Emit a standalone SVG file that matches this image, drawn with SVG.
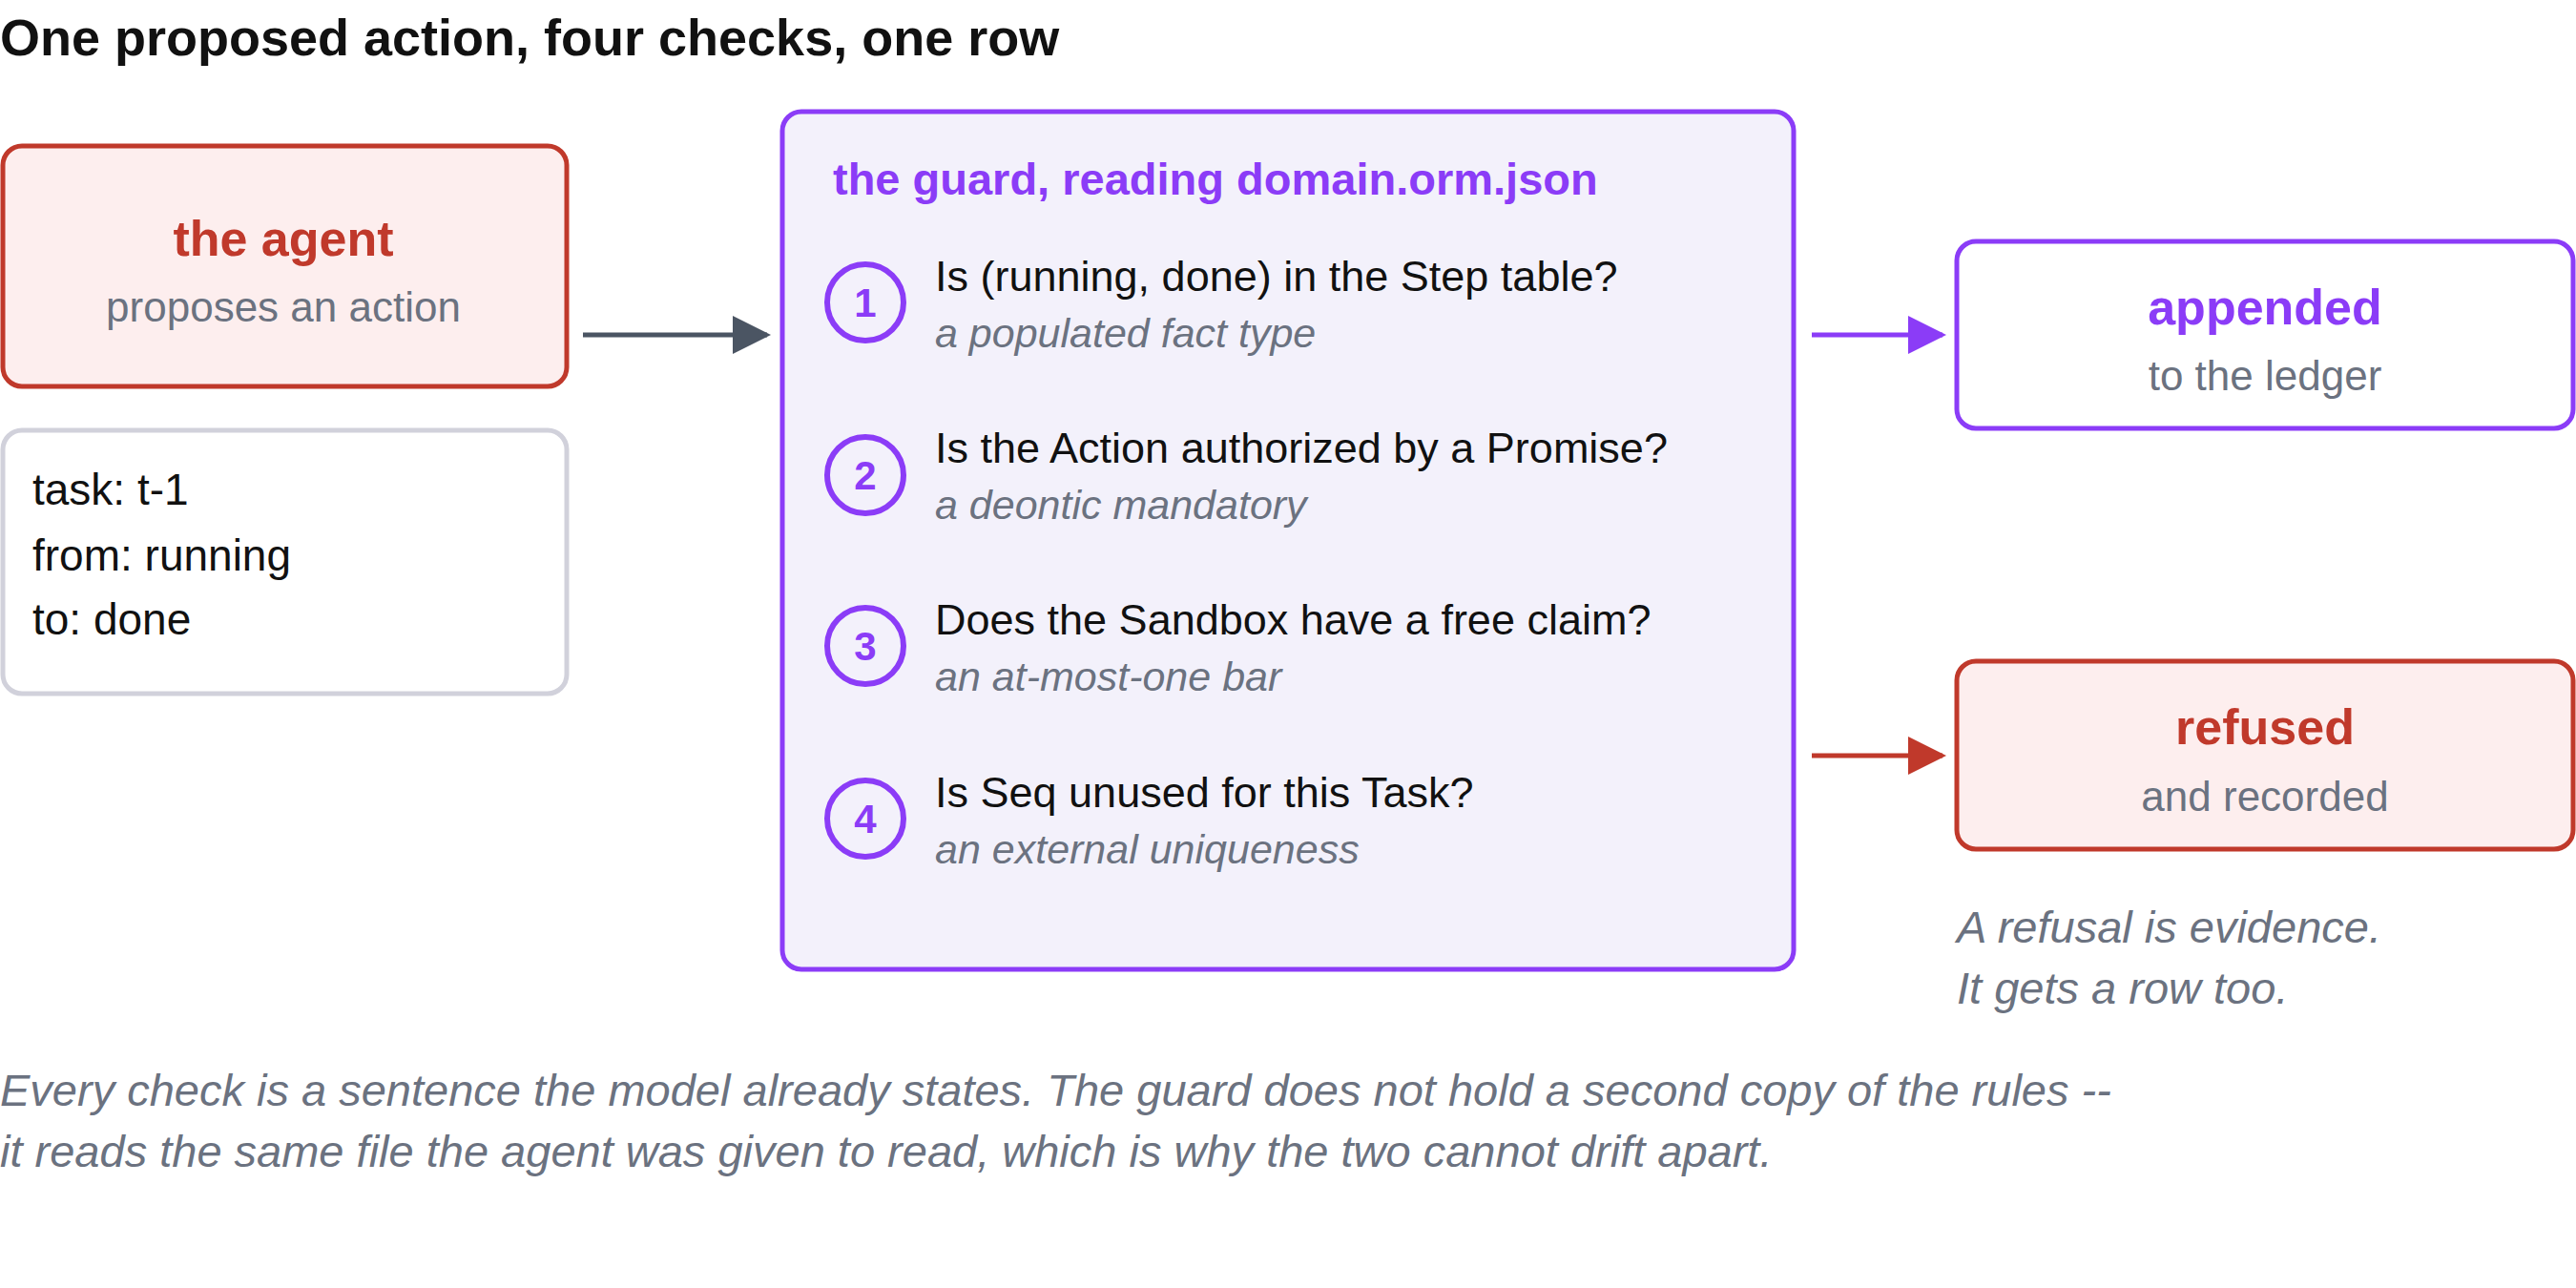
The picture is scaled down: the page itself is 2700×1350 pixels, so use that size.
<svg xmlns="http://www.w3.org/2000/svg" width="2700" height="1350" viewBox="0 0 2700 1350">
<defs>
<style>
text{font-family:"Liberation Sans",Arial,sans-serif}
.b{font-weight:bold}
.g{fill:#6b7280}
.i{font-style:italic;fill:#6b7280}
.q{font-size:45px;fill:#111}
.s{font-size:43px;font-style:italic;fill:#6b7280}
.c{fill:none;stroke:#8b3cf7;stroke-width:6}
.n{font-size:42px;font-weight:bold;fill:#8b3cf7;text-anchor:middle}
</style>
<marker id="ag" viewBox="0 0 10 10" refX="9" refY="5" markerWidth="8" markerHeight="8" orient="auto"><path d="M0,0L10,5L0,10z" fill="#4b5563"/></marker>
<marker id="ap" viewBox="0 0 10 10" refX="9" refY="5" markerWidth="8" markerHeight="8" orient="auto"><path d="M0,0L10,5L0,10z" fill="#8b3cf7"/></marker>
<marker id="ar" viewBox="0 0 10 10" refX="9" refY="5" markerWidth="8" markerHeight="8" orient="auto"><path d="M0,0L10,5L0,10z" fill="#c0392b"/></marker>
</defs>
<rect width="2700" height="1350" fill="#fff"/>
<text x="0" y="58" class="b" font-size="54" fill="#111">One proposed action, four checks, one row</text>
<g id="agent">
<rect x="3" y="153" width="591" height="252" rx="20" fill="#fdeeee" stroke="#c0392b" stroke-width="5"/>
<text x="297" y="268" class="b" font-size="52" fill="#c0392b" text-anchor="middle">the agent</text>
<text x="297" y="337" class="g" font-size="44" text-anchor="middle">proposes an action</text>
</g>
<g id="payload">
<rect x="3" y="451" width="591" height="276" rx="20" fill="#fff" stroke="#d1d1db" stroke-width="5"/>
<text x="34" y="529" font-size="46" fill="#111">task: t-1</text>
<text x="34" y="598" font-size="46" fill="#111">from: running</text>
<text x="34" y="665" font-size="46" fill="#111">to: done</text>
</g>
<g id="guard">
<rect x="820" y="117" width="1060" height="899" rx="20" fill="#f3f1fb" stroke="#8b3cf7" stroke-width="5"/>
<text x="873" y="204" class="b" font-size="47" fill="#8b3cf7">the guard, reading domain.orm.json</text>
<circle cx="907" cy="317" r="40" class="c"/><text x="907" y="332" class="n">1</text>
<text x="980" y="305" class="q">Is (running, done) in the Step table?</text>
<text x="980" y="364" class="s">a populated fact type</text>
<circle cx="907" cy="498" r="40" class="c"/><text x="907" y="513" class="n">2</text>
<text x="980" y="485" class="q">Is the Action authorized by a Promise?</text>
<text x="980" y="544" class="s">a deontic mandatory</text>
<circle cx="907" cy="677" r="40" class="c"/><text x="907" y="692" class="n">3</text>
<text x="980" y="665" class="q">Does the Sandbox have a free claim?</text>
<text x="980" y="724" class="s">an at-most-one bar</text>
<circle cx="907" cy="858" r="40" class="c"/><text x="907" y="873" class="n">4</text>
<text x="980" y="846" class="q">Is Seq unused for this Task?</text>
<text x="980" y="905" class="s">an external uniqueness</text>
</g>
<g id="appended">
<rect x="2051" y="253" width="646" height="196" rx="20" fill="#fff" stroke="#8b3cf7" stroke-width="5"/>
<text x="2374" y="340" class="b" font-size="52" fill="#8b3cf7" text-anchor="middle">appended</text>
<text x="2374" y="409" class="g" font-size="44" text-anchor="middle">to the ledger</text>
</g>
<g id="refused">
<rect x="2051" y="693" width="646" height="197" rx="20" fill="#fdeeee" stroke="#c0392b" stroke-width="5"/>
<text x="2374" y="780" class="b" font-size="52" fill="#c0392b" text-anchor="middle">refused</text>
<text x="2374" y="850" class="g" font-size="44" text-anchor="middle">and recorded</text>
</g>
<g id="connectors">
<line x1="611" y1="351" x2="804" y2="351" stroke="#4b5563" stroke-width="5" marker-end="url(#ag)"/>
<line x1="1899" y1="351" x2="2036" y2="351" stroke="#8b3cf7" stroke-width="5" marker-end="url(#ap)"/>
<line x1="1899" y1="792" x2="2036" y2="792" stroke="#c0392b" stroke-width="5" marker-end="url(#ar)"/>
</g>
<text x="2051" y="988" class="i" font-size="47">A refusal is evidence.</text>
<text x="2051" y="1052" class="i" font-size="47">It gets a row too.</text>
<text x="0" y="1159" class="i" font-size="47">Every check is a sentence the model already states. The guard does not hold a second copy of the rules --</text>
<text x="0" y="1223" class="i" font-size="47">it reads the same file the agent was given to read, which is why the two cannot drift apart.</text>
</svg>
